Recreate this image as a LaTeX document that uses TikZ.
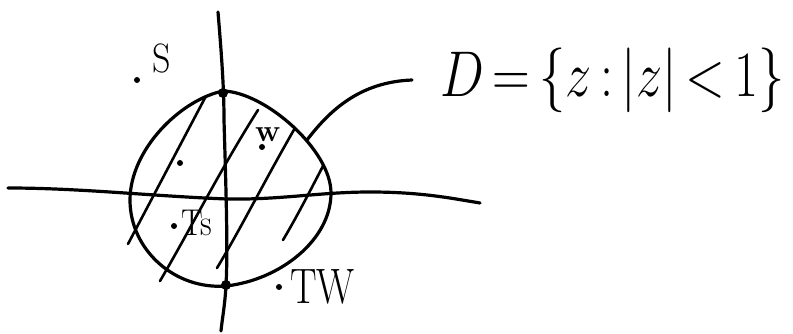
\documentclass[tikz,border=0pt]{standalone}
\usepackage{fontspec}
\usepackage{graphicx}
\begin{document}
\begin{tikzpicture}[x=1pt,y=-1pt,
  pen/.style={line width=3.2pt,line cap=round,line join=round,black},
  hatch/.style={line width=2.6pt,line cap=round,black},
  pt/.style={circle,fill=black,inner sep=0pt,minimum size=6pt},
  bigpt/.style={circle,fill=black,inner sep=0pt,minimum size=10pt},
  lbl/.style={inner sep=0pt,anchor=base west,font=\Huge}]
\useasboundingbox (0,0) rectangle (793,334);
% axes
\draw[pen] (218,12) .. controls (222,60) and (224,90) .. (224,120) .. controls (226,190) and (228,250) .. (226,285) .. controls (225,305) and (222,320) .. (221,331);
\draw[pen] (8,188) .. controls (80,188) and (150,196) .. (227,199) .. controls (280,200) and (320,192) .. (370,192) .. controls (420,192) and (450,198) .. (480,203);
% disk
\draw[pen] (223,91) .. controls (265,92) and (331,150) .. (331,193)
  .. controls (331,240) and (280,280) .. (226,286)
  .. controls (175,290) and (130,250) .. (130,200)
  .. controls (130,150) and (180,100) .. cycle;
% hatching
\draw[hatch] (206,96) -- (128,244);
\draw[hatch] (258,110) .. controls (220,170) and (190,230) .. (160,281);
\draw[hatch] (295,128) .. controls (265,180) and (240,230) .. (217,268);
\draw[hatch] (323,166) .. controls (308,195) and (295,220) .. (283,240);
% dots
\node[bigpt] (top) at (223,93) {};
\node[bigpt] (bot) at (226,285) {};
\node[pt] (sdot) at (137,80) {};
\node[pt] (wdot) at (262,147) {};
\node[pt] (mdot) at (180,163) {};
\node[pt] (tsdot) at (174,226) {};
\node[pt] (twdot) at (279,287) {};
% labels
\node[lbl] (S) at (152,73) {\scalebox{1.45}[1.65]{S}};
\node[lbl] (w) at (255,142) {\scalebox{1.25}{\bfseries w}};
\node[lbl] (Ts) at (181,235) {\scalebox{1.3}[1.5]{Ts}};
\node[lbl] (TW) at (290,303) {\scalebox{1.6}[2.0]{TW}};
\node[lbl] (D) at (440,97) {\scalebox{2.1}[2.6]{$\thickmuskip=3mu\medmuskip=2mu D=\{z:|z|<1\}$}};
% connector
\coordinate (c0) at (307,140);
\draw[pen] (c0) .. controls (330,110) and (360,82) .. (412,80);
\end{tikzpicture}
\end{document}
